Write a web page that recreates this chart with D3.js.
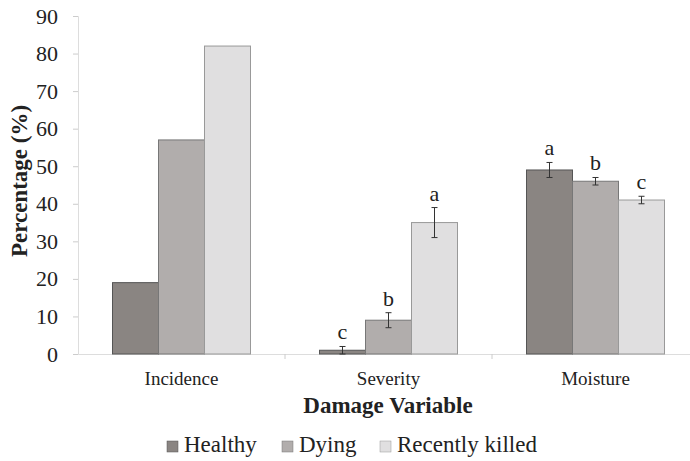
<html>
<head>
<meta charset="utf-8">
<script src="https://cdnjs.cloudflare.com/ajax/libs/d3/7.8.5/d3.min.js"></script>
<style>
  body { margin: 0; background: #fff; }
  svg text { font-family: 'Liberation Serif', 'Times New Roman', serif; fill: #222; }
</style>
</head>
<body>
<div id="chart"></div>
<script>
var categories = ["Incidence", "Severity", "Moisture"];
var groups = ["Healthy", "Dying", "Recently killed"];
var healthy = [19, 1, 49];
var dying = [57, 9, 46];
var killed = [82, 35, 41];
var healthyErr = [0, 1, 2];
var dyingErr = [0, 2, 1];
var killedErr = [0, 4, 1];
var healthyLetters = ["", "c", "a"];
var dyingLetters = ["", "b", "b"];
var killedLetters = ["", "a", "c"];
var yTicks = [0, 10, 20, 30, 40, 50, 60, 70, 80, 90];

var fills = ["#8a8582", "#b1adac", "#e0dfe0"];
var strokes = ["#555", "#777", "#999"];
var serif = "'Liberation Serif', 'Times New Roman', serif";

var width = 690, height = 461;
var plotLeft = 78, plotTop = 16, plotBottom = 354, plotRight = 699;

var svg = d3.select("#chart").append("svg")
    .attr("width", width)
    .attr("height", height);

var x = d3.scaleBand().domain(categories).range([plotLeft, plotRight]);
var xInner = d3.scaleBand().domain(groups)
    .range([0, x.bandwidth()]).paddingOuter(0.75);
var y = d3.scaleLinear().domain([0, 90]).range([plotBottom, plotTop]);

// y axis
var yAxis = svg.append("g")
    .attr("transform", "translate(" + plotLeft + ",0)")
    .call(d3.axisLeft(y).tickValues(yTicks).tickSize(5).tickPadding(15));
yAxis.attr("font-family", serif);
yAxis.select(".domain").attr("stroke", "#ddd");
yAxis.selectAll(".tick line").attr("stroke", "#ccc");
yAxis.selectAll(".tick text")
    .attr("font-family", serif)
    .style("font-size", "22px")
    .attr("fill", "#222");

// x axis
var xAxis = svg.append("g")
    .attr("transform", "translate(0," + plotBottom + ")")
    .call(d3.axisBottom(x).tickSize(0).tickPadding(18));
xAxis.attr("font-family", serif);
xAxis.select(".domain").attr("stroke", "#ddd");
xAxis.selectAll(".tick text")
    .attr("font-family", serif)
    .style("font-size", "19px")
    .attr("fill", "#222");
// small separators between categories
svg.selectAll(".sep")
    .data(categories.slice(1))
    .enter().append("line")
    .attr("x1", function(d) { return x(d); })
    .attr("x2", function(d) { return x(d); })
    .attr("y1", plotBottom)
    .attr("y2", plotBottom + 5)
    .attr("stroke", "#ccc");

var rows = [];
categories.forEach(function(c, i) {
    rows.push({ cat: c, g: 0, v: healthy[i], e: healthyErr[i], l: healthyLetters[i] });
    rows.push({ cat: c, g: 1, v: dying[i], e: dyingErr[i], l: dyingLetters[i] });
    rows.push({ cat: c, g: 2, v: killed[i], e: killedErr[i], l: killedLetters[i] });
});

var bar = svg.selectAll(".bar")
    .data(rows)
    .enter().append("g")
    .attr("transform", function(d) { return "translate(" + (x(d.cat) + xInner(groups[d.g])) + ",0)"; });

bar.append("rect")
    .attr("x", 0)
    .attr("y", function(d) { return y(d.v); })
    .attr("width", xInner.bandwidth())
    .attr("height", function(d) { return plotBottom - y(d.v); })
    .attr("fill", function(d) { return fills[d.g]; })
    .attr("stroke", function(d) { return strokes[d.g]; })
    .attr("stroke-width", 1);

var cx = xInner.bandwidth() / 2;
var err = bar.filter(function(d) { return d.e > 0; });
err.append("line")
    .attr("x1", cx).attr("x2", cx)
    .attr("y1", function(d) { return y(d.v + d.e); })
    .attr("y2", function(d) { return y(d.v - d.e); })
    .attr("stroke", "#333");
err.append("line")
    .attr("x1", cx - 3).attr("x2", cx + 3)
    .attr("y1", function(d) { return y(d.v + d.e); })
    .attr("y2", function(d) { return y(d.v + d.e); })
    .attr("stroke", "#333");
err.append("line")
    .attr("x1", cx - 3).attr("x2", cx + 3)
    .attr("y1", function(d) { return y(d.v - d.e); })
    .attr("y2", function(d) { return y(d.v - d.e); })
    .attr("stroke", "#333");

bar.append("text")
    .attr("x", cx)
    .attr("y", function(d) { return y(d.v + d.e) - 7; })
    .attr("text-anchor", "middle")
    .attr("font-family", serif)
    .style("font-size", "22px")
    .text(function(d) { return d.l; });

// axis titles
svg.append("text")
    .attr("transform", "translate(27,181) rotate(-90)")
    .attr("text-anchor", "middle")
    .attr("font-family", serif)
    .style("font-size", "23px")
    .style("font-weight", "bold")
    .text("Percentage (%)");

svg.append("text")
    .attr("x", 388)
    .attr("y", 413)
    .attr("text-anchor", "middle")
    .attr("font-family", serif)
    .style("font-size", "23px")
    .style("font-weight", "bold")
    .text("Damage Variable");

// legend
var legendX = [167, 282, 380];
var legend = svg.selectAll(".legend")
    .data(groups)
    .enter().append("g")
    .attr("transform", function(d, i) { return "translate(" + legendX[i] + ",441)"; });
legend.append("rect")
    .attr("x", 0).attr("y", 0)
    .attr("width", 11).attr("height", 11)
    .attr("fill", function(d, i) { return fills[i]; })
    .attr("stroke", function(d, i) { return strokes[i]; })
    .attr("stroke-width", 0.5);
legend.append("text")
    .attr("x", 17)
    .attr("y", 11)
    .attr("font-family", serif)
    .style("font-size", "23px")
    .text(function(d) { return d; });
</script>
</body>
</html>
